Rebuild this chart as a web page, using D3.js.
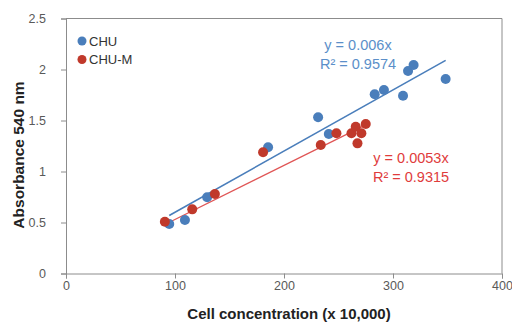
<!DOCTYPE html>
<html>
<head>
<meta charset="utf-8">
<script src="https://cdn.jsdelivr.net/npm/d3@7"></script>
<style>
  body { margin: 0; background: #fff; }
  svg { font-family: "Liberation Sans", Arial, sans-serif; }
</style>
</head>
<body>
<div id="chart"></div>
<script>
// CHU series (cell concentration x 10,000, absorbance)
const chuX = [94.7, 109.1, 129.5, 185.4, 231.3, 241.1, 283.2, 291.7, 309.2, 313.8, 318.9, 348.3];
const chuY = [0.485, 0.525, 0.747, 1.237, 1.531, 1.368, 1.757, 1.799, 1.743, 1.985, 2.044, 1.907];

// CHU-M series
const chumX = [90.7, 115.8, 136.6, 180.8, 233.7, 248.1, 261.9, 265.8, 267.4, 271.0, 275.0];
const chumY = [0.508, 0.629, 0.779, 1.188, 1.260, 1.375, 1.375, 1.439, 1.276, 1.375, 1.466];

const seriesNames = ['CHU', 'CHU-M'];
const slopes = [0.006, 0.0053];
const eqLabels = [['y = 0.006x', 'R\u00B2 = 0.9574'], ['y = 0.0053x', 'R\u00B2 = 0.9315']];

const xTicks = [0, 100, 200, 300, 400];
const yTicks = [0, 0.5, 1, 1.5, 2, 2.5];

const W = 512, H = 324;
const margin = { top: 18.5, right: 10, bottom: 50.5, left: 66 };
const width = W - margin.left - margin.right;
const height = H - margin.top - margin.bottom;

const svg = d3.select('#chart').append('svg')
    .attr('width', W)
    .attr('height', H);

const g = svg.append('g')
    .attr('transform', `translate(${margin.left},${margin.top})`);

const x = d3.scaleLinear().domain([0, 400]).range([0, width]);
const y = d3.scaleLinear().domain([0, 2.5]).range([height, 0]);

const axisCol = '#8c8c8c';
const labelCol = '#595959';
const colors = ['#4a7ebb', '#c0392b'];
const lineColors = ['#4a7ebb', '#e05555'];

// plot frame (top and right borders)
g.append('path')
    .attr('d', `M0,0H${width}V${height}`)
    .attr('fill', 'none')
    .attr('stroke', axisCol)
    .attr('stroke-width', 1);

// X axis
g.append('g')
    .attr('transform', `translate(0,${height})`)
    .call(d3.axisBottom(x).tickValues(xTicks).tickSize(5).tickPadding(3).tickFormat(d3.format('d')))
    .call(ax => {
        ax.select('.domain').attr('stroke', axisCol);
        ax.selectAll('.tick line').attr('stroke', axisCol);
        ax.selectAll('text').attr('fill', labelCol).style('font-size', '12.5px');
    });

// Y axis
g.append('g')
    .call(d3.axisLeft(y).tickValues(yTicks).tickSize(5).tickPadding(15).tickFormat(d => d))
    .call(ax => {
        ax.select('.domain').attr('stroke', axisCol);
        ax.selectAll('.tick line').attr('stroke', axisCol);
        ax.selectAll('text').attr('fill', labelCol).style('font-size', '12.5px');
    });

// axis titles
svg.append('text')
    .attr('x', 289)
    .attr('y', 319)
    .attr('text-anchor', 'middle')
    .style('font-size', '15px')
    .style('font-weight', 'bold')
    .attr('fill', '#222')
    .text('Cell concentration (x 10,000)');

svg.append('text')
    .attr('transform', 'translate(24,155) rotate(-90)')
    .attr('text-anchor', 'middle')
    .style('font-size', '15.5px')
    .style('font-weight', 'bold')
    .attr('fill', '#222')
    .text('Absorbance 540 nm');

const series = [
    { xs: chuX, ys: chuY },
    { xs: chumX, ys: chumY }
];

// trendlines through origin, drawn over data range
series.forEach((s, i) => {
    const x0 = d3.min(s.xs), x1 = d3.max(s.xs);
    g.append('line')
        .attr('x1', x(x0)).attr('y1', y(slopes[i] * x0))
        .attr('x2', x(x1)).attr('y2', y(slopes[i] * x1))
        .attr('stroke', lineColors[i])
        .attr('stroke-width', i === 0 ? 1.6 : 1.3);
});

// points (CHU-M drawn after CHU so red sits on top)
series.forEach((s, i) => {
    g.selectAll('.pt' + i)
        .data(s.xs.map((v, j) => [v, s.ys[j]]))
        .enter().append('circle')
        .attr('class', 'pt' + i)
        .attr('cx', d => x(d[0]))
        .attr('cy', d => y(d[1]))
        .attr('r', 5)
        .attr('fill', colors[i]);
});

// equation labels
const eqPos = [[358, 50, '#5b8fc9'], [411, 163, '#e03c3c']];
eqLabels.forEach((lines, i) => {
    lines.forEach((t, k) => {
        svg.append('text')
            .attr('x', eqPos[i][0])
            .attr('y', eqPos[i][1] + k * 18.5)
            .attr('text-anchor', 'middle')
            .style('font-size', '14.5px')
            .attr('fill', eqPos[i][2])
            .text(t);
    });
});

// legend
const legend = svg.append('g').attr('transform', 'translate(82,41)');
seriesNames.forEach((name, i) => {
    legend.append('circle')
        .attr('cx', 0).attr('cy', i * 18.5)
        .attr('r', 4.5)
        .attr('fill', colors[i]);
    legend.append('text')
        .attr('x', 7).attr('y', i * 18.5 + 4.5)
        .style('font-size', '13px')
        .attr('fill', '#333')
        .text(name);
});
</script>
</body>
</html>
